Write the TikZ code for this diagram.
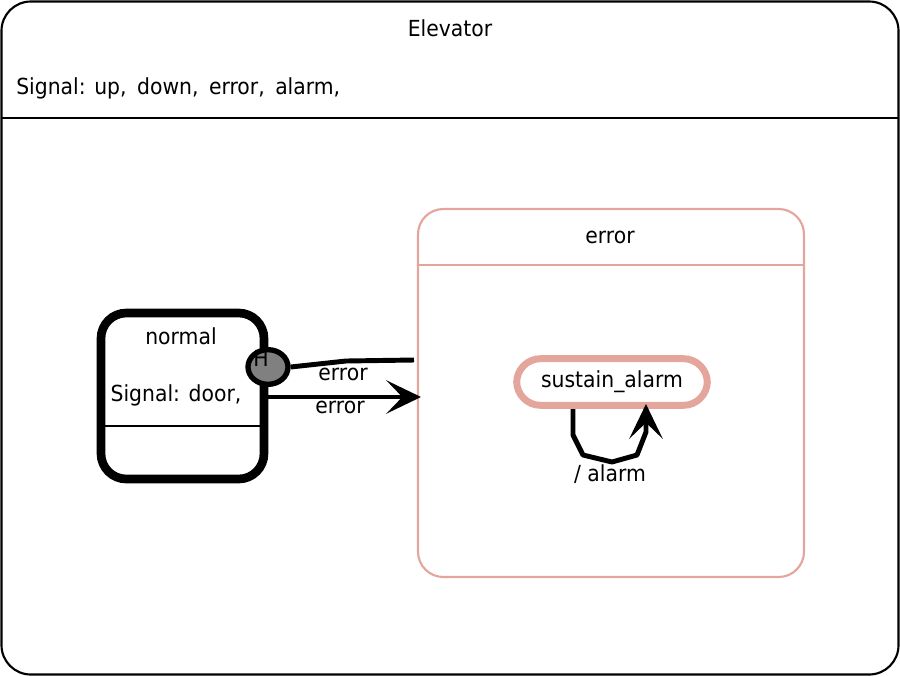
\documentclass[tikz,border=0pt]{standalone}
\usepackage{fontspec}
\setmainfont[FakeStretch=0.92]{DejaVu Sans}
\usepackage{xcolor}
\usetikzlibrary{arrows.meta, positioning, shapes.geometric}

\definecolor{errpink}{HTML}{E3A59C}
\definecolor{histgray}{HTML}{808080}

\begin{document}
\begin{tikzpicture}[x=0.75pt, y=-0.75pt, every node/.style={font=\fontsize{16.6}{19}\selectfont, inner sep=0pt},
  trans/.style={line width=3.7pt, line join=round},
  transarr/.style={trans, -{Stealth[length=26pt, width=25pt, inset=12pt]}}]
  \useasboundingbox (0,0) rectangle (900,676);
  % ---------- ELEVATOR ----------
  \draw[line width=1.6pt, rounded corners=22pt] (1.5,1.5) rectangle (898.5,674.5);
  \draw[line width=1.6pt] (1,118) -- (899,118);
  \node (elev) at (450,28) {Elevator};
  \node[anchor=west] (elevsig) at (16,88) {Signal: up,\hspace{3pt} down,\hspace{3pt} error,\hspace{3pt} alarm,};
  % ---------- ERROR ----------
  \draw[errpink, line width=1.6pt, rounded corners=19pt] (418,209) rectangle (804,577);
  \draw[errpink, line width=1.6pt] (418,265) -- (804,265);
  \node (errlbl) at (610,237) {error};
  \coordinate (errW) at (421,397);
  \coordinate (errWh) at (414,360);
  \node[draw=errpink, line width=5.2pt, rounded corners=18pt, minimum width=143pt, minimum height=35pt] (sustain) at (612,382) {sustain\_alarm};
  % ---------- NORMAL ----------
  \draw[line width=6.5pt, rounded corners=19pt] (101,313) rectangle (264,479);
  \draw[line width=1.6pt] (101,426) -- (264,426);
  \node (normlbl) at (181,336) {normal};
  \node (normsig) at (176,395) {Signal: door,};
  \coordinate (normE) at (267,397);
  \node[draw, fill=histgray, line width=4pt, ellipse, minimum width=30pt, minimum height=26pt] (hist) at (268,367) {};
  \node (histH) at (261,358) {H};
  % ---------- TRANSITIONS ----------
  \draw[trans] (hist.east) -- (346,361) -- (errWh);
  \node (lblA) at (343,374) {error};
  \draw[transarr] (normE) -- (errW);
  \node (lblB) at (340,407) {error};
  \coordinate (loopS) at (573,409);
  \coordinate (loopE) at (646,404);
  \draw[transarr] (loopS) -- (573,435) -- (583,455) -- (612,462) -- (637,455) -- (646,432) -- (loopE);
  \node (lblC) at (610,474) {/ alarm};
\end{tikzpicture}
\end{document}
